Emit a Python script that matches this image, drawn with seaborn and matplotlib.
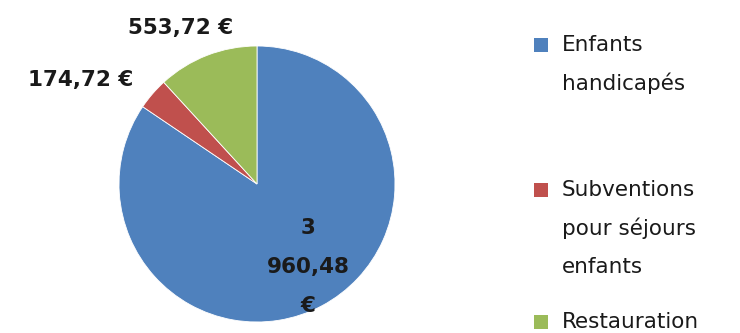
import matplotlib
matplotlib.use("Agg")
import matplotlib.pyplot as plt
from matplotlib.patches import Rectangle
import seaborn as sns

# Budget breakdown
categories = ["Enfants handicapés", "Subventions pour séjours enfants", "Restauration"]
legend_lines = [["Enfants", "handicapés"], ["Subventions", "pour séjours", "enfants"], ["Restauration"]]
values = [3960.48, 174.72, 553.72]
colors = ["#4F81BD", "#C0504D", "#9BBB59"]

sns.set_theme(style="white")
plt.rcParams["font.family"] = ["DejaVu Sans"]

W, H = 740, 333
fig = plt.figure(figsize=(W / 100, H / 100), dpi=100)
fig.patch.set_facecolor("white")

# pie axes: centre (257, 184) px, radius 138 px
cx, cy, r = 257, 184, 138
ax = fig.add_axes([(cx - r) / W, (H - cy - r) / H, 2 * r / W, 2 * r / H])
wedges, _ = ax.pie(values, colors=colors, startangle=90, counterclock=False,
                   radius=1.0, wedgeprops=dict(edgecolor="white", linewidth=0.6))
ax.set_xlim(-1, 1)
ax.set_ylim(-1, 1)
ax.set_aspect("equal")
ax.axis("off")


def euro(v):
    s = f"{v:,.2f}".replace(",", " ").replace(".", ",")
    return s + " €"


label_txt = [euro(v) for v in values]
label_txt[0] = "\n".join(label_txt[0].split(" "))
label_pos = [(0.37, -0.6), (-1.28, 0.75), (-0.55, 1.13)]
for txt, (x, y) in zip(label_txt, label_pos):
    ax.text(x, y, txt, ha="center", va="center", fontsize=15.5, fontweight="bold",
            color="#1a1a1a", linespacing=2.2, clip_on=False)

# legend drawn in pixel coordinates
entry_tops = [45, 190, 322]
line_gap = 38.5
for lines, col, y0 in zip(legend_lines, colors, entry_tops):
    fig.patches.append(Rectangle((534 / W, (H - y0 - 7) / H), 14 / W, 14 / H,
                                 transform=fig.transFigure, facecolor=col,
                                 edgecolor="none"))
    for i, ln in enumerate(lines):
        fig.text(562 / W, (H - (y0 + i * line_gap)) / H, ln, ha="left", va="center",
                 fontsize=15.5, color="#1a1a1a")

fig.savefig("out.png", dpi=100)
